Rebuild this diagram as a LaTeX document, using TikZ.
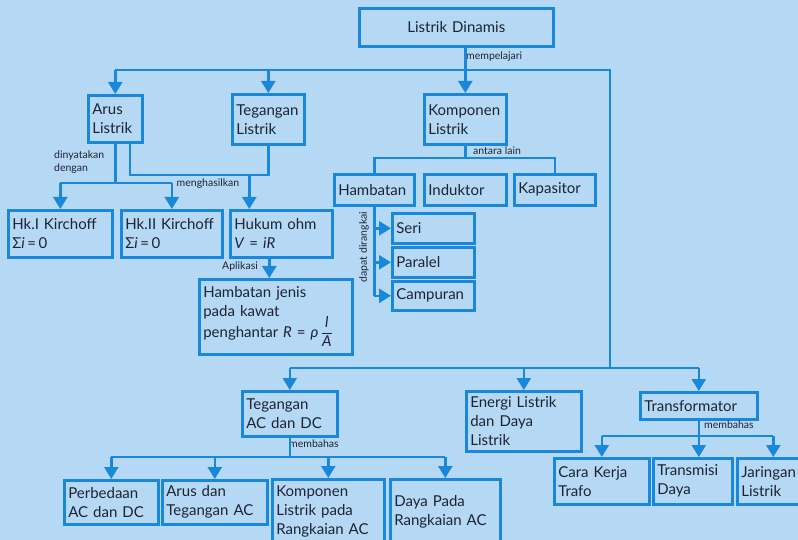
\documentclass[tikz,border=0pt]{standalone}
\usepackage{fontspec}
\setmainfont{Lato}
\usetikzlibrary{arrows.meta}
\definecolor{latar}{HTML}{B5D9F5}
\definecolor{garis}{HTML}{1A88DA}
\definecolor{tulisan}{HTML}{1C2333}
\begin{document}
\begin{tikzpicture}[x=1pt,y=-1pt,
kotak/.style={draw=garis,line width=2.6pt,anchor=north west,align=left,inner xsep=4pt,inner ysep=2pt,text=tulisan,font=\fontsize{15}{19}\selectfont},
ket/.style={text=tulisan,font=\fontsize{10.5}{13}\selectfont,inner sep=1pt},
hubung/.style={draw=garis,line width=2.5pt},
panah/.style={hubung,-{Triangle[width=14pt,length=12pt]}}]
\useasboundingbox(0,0)rectangle(798,540);
\fill[latar](0,0)rectangle(798,540);
\node[kotak,text width=186pt,align=center,minimum height=38pt](ld)at(358,7){Listrik Dinamis};
\node[kotak,text width=46pt,minimum height=47pt](arus)at(87,94){Arus\\Listrik};
\node[kotak,text width=64pt,minimum height=50pt](teg)at(231,93){Tegangan\\Listrik};
\node[kotak,text width=74pt,minimum height=50pt](komp)at(423,93){Komponen\\Listrik};
\node[kotak,text width=96pt,minimum height=47pt](hk1)at(7,209){Hk.I Kirchoff\\Σ\textit{i}\,=\,0};
\node[kotak,text width=93pt,minimum height=47pt](hk2)at(120,209){Hk.II Kirchoff\\Σ\textit{i}\,=\,0};
\node[kotak,text width=94pt,minimum height=47pt](ohm)at(229,209){Hukum ohm\\\textit{V} = \textit{iR}};
\node[kotak,text width=145pt,minimum height=75pt](jenis)at(198,278){Hambatan jenis\\pada kawat\\[-4pt]penghantar \textit{R} = \textit{ρ}\,$\displaystyle\frac{\textit{l}}{\textit{A}}$};
\node[kotak,text width=72pt,minimum height=31pt](hamb)at(333,173){Hambatan};
\node[kotak,text width=74pt,minimum height=31pt](ind)at(423,173){Induktor};
\node[kotak,text width=73pt,minimum height=31pt](kap)at(513,173){Kapasitor};
\node[kotak,text width=74pt,minimum height=30pt](seri)at(391,212){Seri};
\node[kotak,text width=74pt,minimum height=30pt](par)at(391,246){Paralel};
\node[kotak,text width=74pt,minimum height=29pt](camp)at(391,280){Campuran};
\node[kotak,text width=87pt,minimum height=45pt](tacdc)at(241,390){Tegangan\\AC dan DC};
\node[kotak,text width=107pt,minimum height=60pt](energi)at(465,390){Energi Listrik\\dan Daya\\Listrik};
\node[kotak,text width=109pt,minimum height=27pt](trafo)at(639,391){Transformator};
\node[kotak,text width=87pt,minimum height=46pt](cara)at(553,457){Cara Kerja\\Trafo};
\node[kotak,text width=71pt,minimum height=46pt](trans)at(652,457){Transmisi\\Daya};
\node[kotak,text width=64pt,minimum height=46pt](jar)at(736,457){Jaringan\\Listrik};
\node[kotak,text width=86pt,minimum height=44pt](beda)at(63,479){Perbedaan\\AC dan DC};
\node[kotak,text width=97pt,minimum height=44pt](arusac)at(161,479){Arus dan\\Tegangan AC};
\node[kotak,text width=104pt,minimum height=64pt](kompac)at(271,478){Komponen\\Listrik pada\\Rangkaian AC};
\node[kotak,text width=102pt,minimum height=66pt](daya)at(389,478){Daya Pada\\Rangkaian AC};
\node[ket,anchor=west](lb1)at(465,57){mempelajari};
\node[ket,anchor=west,align=left](lb2)at(53,162){dinyatakan\\dengan};
\node[ket](lb3)at(208,184){menghasilkan};
\node[ket,anchor=west](lb4)at(472,151){antara lain};
\node[ket,anchor=east](lb5)at(259,267){Aplikasi};
\node[ket,rotate=90](lb6)at(364,247){dapat dirangkai};
\node[ket,anchor=west](lb7)at(288,444){membahas};
\node[ket,anchor=west](lb8)at(703,425){membahas};
\coordinate(s1)at(610,70);\coordinate(s2)at(610,368);
\draw[panah](komp.north|-ld.south)--(komp.north);
\draw[hubung](arus.north|-s1)--(s1)--(s2);
\draw[hubung](tacdc.north|-s2)--(trafo.north|-s2);
\foreach\k in{arus,teg}\draw[panah](\k.north|-s1)--(\k.north);
\foreach\k in{tacdc,energi,trafo}\draw[panah](\k.north|-s2)--(\k.north);
\coordinate(s3)at(0,183);
\draw[hubung](arus.south)--(arus.south|-s3);
\draw[hubung](hk1.north|-s3)--(hk2.north|-s3);
\foreach\k in{hk1,hk2}\draw[panah](\k.north|-s3)--(\k.north);
\coordinate(s4)at(130,175);
\draw[hubung](s4|-arus.south)--(s4)--(teg.south|-s4)--(teg.south);
\coordinate(oh)at([xshift=-32pt]ohm.north);
\draw[panah](oh|-s4)--(oh);
\coordinate(oa)at([xshift=-12pt]ohm.south);
\draw[panah](oa)--(oa|-jenis.north);
\coordinate(s5)at(0,158);
\draw[hubung](komp.south)--(komp.south|-s5);
\draw[hubung](hamb.north)--(hamb.north|-s5)--(kap.north|-s5)--(kap.north);
\draw[hubung](hamb.south)--(hamb.south|-camp.west);
\foreach\k in{seri,par,camp}\draw[panah](hamb.south|-\k.west)--(\k.west);
\coordinate(s6)at(0,457);
\draw[hubung](tacdc.south)--(tacdc.south|-s6);
\draw[hubung](beda.north|-s6)--(daya.north|-s6);
\foreach\k in{beda,arusac,kompac,daya}\draw[panah](\k.north|-s6)--(\k.north);
\coordinate(s7)at(0,436);
\draw[hubung](cara.north|-s7)--(jar.north|-s7);
\draw[panah](trafo.south)--(trafo.south|-trans.north);
\foreach\k in{cara,jar}\draw[panah](\k.north|-s7)--(\k.north);
\end{tikzpicture}
\end{document}
